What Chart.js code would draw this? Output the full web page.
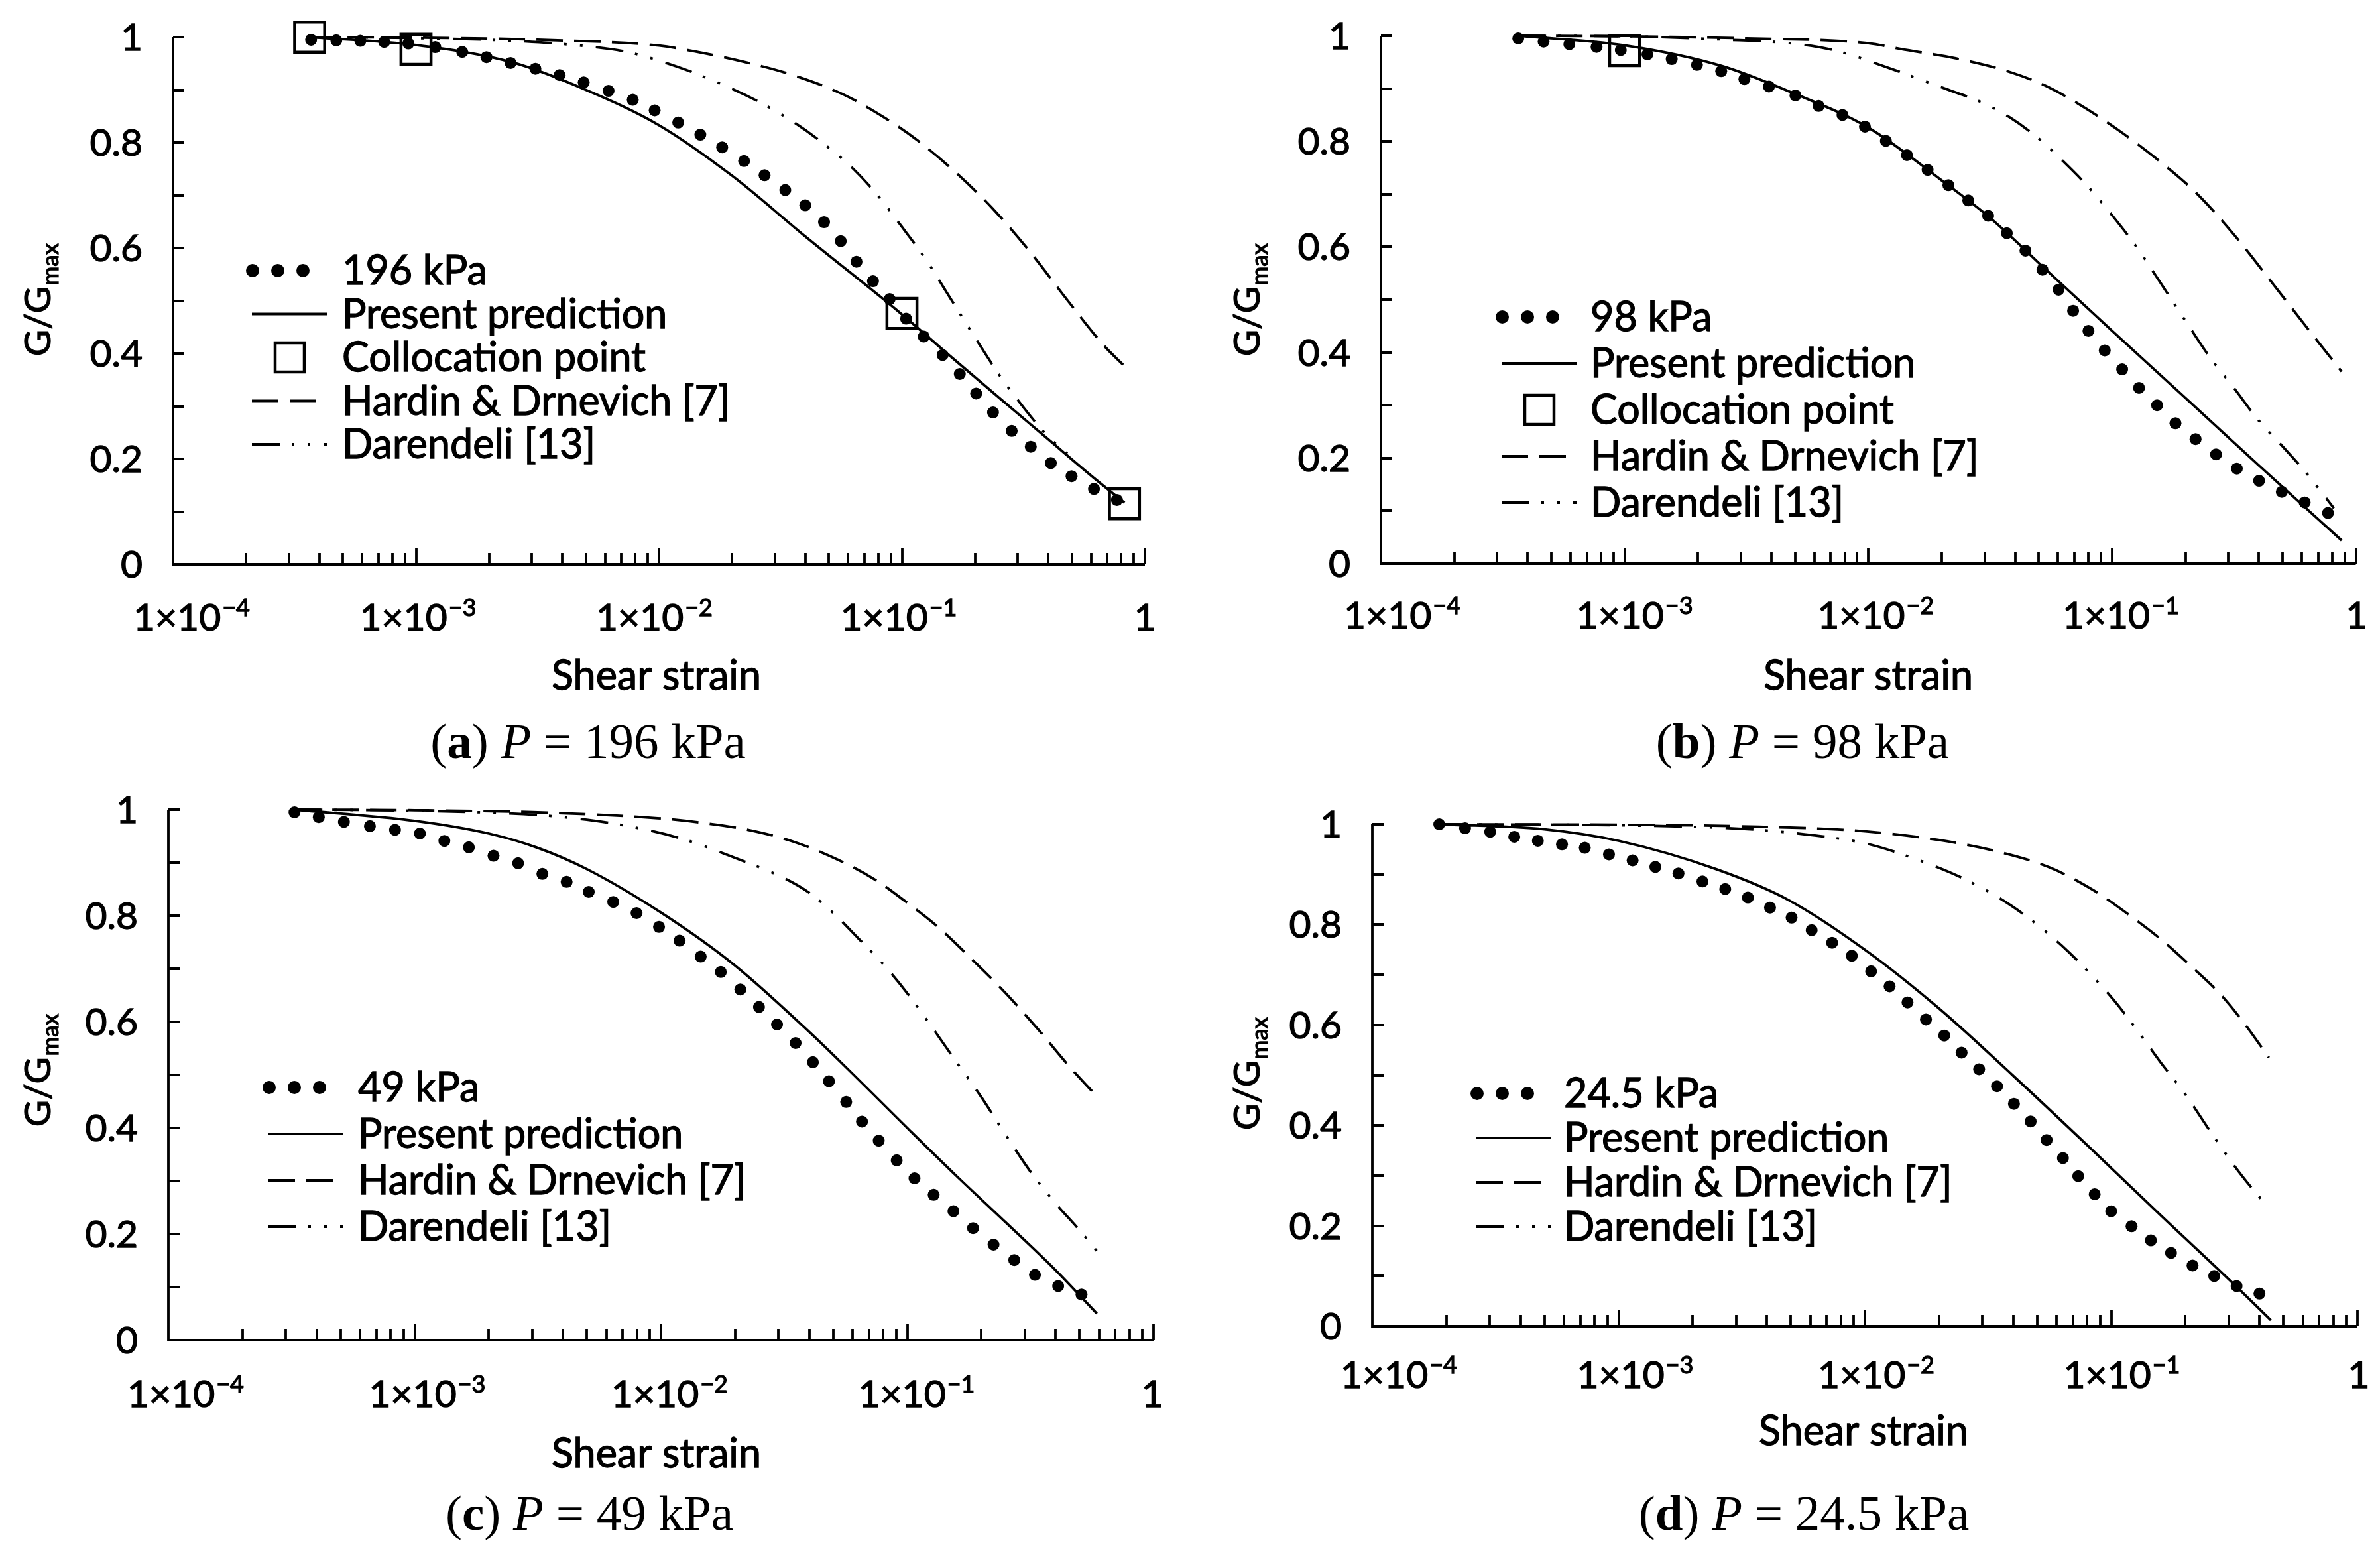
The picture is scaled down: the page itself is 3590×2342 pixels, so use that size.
<!DOCTYPE html>
<html>
<head>
<meta charset="utf-8">
<title>G/Gmax versus shear strain</title>
<script src="https://cdn.jsdelivr.net/npm/chart.js@4.4.1/dist/chart.umd.min.js"></script>
<style>
  html, body { margin: 0; padding: 0; background: #fff; }
  #page { position: relative; width: 3590px; height: 2342px; }
  #page canvas { position: absolute; }
</style>
</head>
<body>
<div id="page">
  <canvas id="chartA" width="1795" height="1171" style="left:0;top:0"></canvas>
  <canvas id="chartB" width="1795" height="1171" style="left:1795px;top:0"></canvas>
  <canvas id="chartC" width="1795" height="1171" style="left:0;top:1171px"></canvas>
  <canvas id="chartD" width="1795" height="1171" style="left:1795px;top:1171px"></canvas>
</div>
<script>
// axis ticks
var xTicks = [1e-4, 1e-3, 1e-2, 1e-1, 1];
var xTickLabels = [['1×10', '−4'], ['1×10', '−3'], ['1×10', '−2'], ['1×10', '−1'], ['1', '']];
var yTicks = [0, 0.2, 0.4, 0.6, 0.8, 1];
var yTickLabels = ['0', '0.2', '0.4', '0.6', '0.8', '1'];

// (a) P = 196 kPa
var strainA = [3.7e-4, 4.7e-4, 5.9e-4, 7.4e-4, 9.3e-4, 1.2e-3, 1.55e-3, 1.95e-3, 2.45e-3, 3.1e-3, 3.9e-3, 4.9e-3, 6.2e-3, 7.8e-3, 9.6e-3, 1.2e-2, 1.48e-2, 1.82e-2, 2.24e-2, 2.72e-2, 3.31e-2, 4.0e-2, 4.78e-2, 5.6e-2, 6.5e-2, 7.6e-2, 8.9e-2, 0.104, 0.123, 0.147, 0.173, 0.202, 0.237, 0.283, 0.339, 0.41, 0.499, 0.617, 0.767];
var measuredA = [0.995, 0.994, 0.993, 0.991, 0.988, 0.981, 0.972, 0.962, 0.951, 0.94, 0.928, 0.914, 0.898, 0.881, 0.861, 0.838, 0.815, 0.791, 0.765, 0.738, 0.71, 0.681, 0.649, 0.613, 0.574, 0.537, 0.503, 0.466, 0.432, 0.397, 0.361, 0.324, 0.288, 0.253, 0.223, 0.192, 0.167, 0.143, 0.122];
var predStrainA = [3.65e-4, 1e-3, 2.5e-3, 5e-3, 1e-2, 2e-2, 4e-2, 0.1, 0.158, 0.251, 0.398, 0.631, 0.824];
var predA = [1.0, 0.985, 0.952, 0.9, 0.833, 0.737, 0.622, 0.474, 0.395, 0.316, 0.238, 0.16, 0.117];
var colStrainA = [3.65e-4, 1e-3, 0.1, 0.824];
var colA = [1.0, 0.977, 0.476, 0.115];
var hdStrainA = [3.65e-4, 1e-3, 3.16e-3, 1e-2, 1.4e-2, 2.29e-2, 3.5e-2, 5.75e-2, 8.77e-2, 0.116, 0.165, 0.235, 0.335, 0.476, 0.678, 0.824];
var hdA = [1.0, 0.999, 0.995, 0.984, 0.973, 0.952, 0.929, 0.891, 0.843, 0.804, 0.745, 0.676, 0.594, 0.503, 0.415, 0.376];
var darStrainA = [3.65e-4, 1e-3, 2.5e-3, 5e-3, 7.4e-3, 1.17e-2, 1.66e-2, 2.51e-2, 3.55e-2, 4.79e-2, 6.31e-2, 7.94e-2, 0.1, 0.126, 0.158, 0.2, 0.251, 0.316, 0.398, 0.479];
var darA = [1.0, 0.998, 0.993, 0.983, 0.972, 0.945, 0.918, 0.88, 0.84, 0.797, 0.75, 0.70, 0.64, 0.577, 0.505, 0.43, 0.36, 0.298, 0.243, 0.21];

// (b) P = 98 kPa
var strainB = [3.66e-4, 4.65e-4, 5.93e-4, 7.67e-4, 9.64e-4, 1.24e-3, 1.56e-3, 1.98e-3, 2.49e-3, 3.1e-3, 3.91e-3, 5.02e-3, 6.25e-3, 7.83e-3, 9.68e-3, 1.18e-2, 1.44e-2, 1.75e-2, 2.13e-2, 2.57e-2, 3.1e-2, 3.7e-2, 4.41e-2, 5.18e-2, 6.03e-2, 6.92e-2, 8.0e-2, 9.33e-2, 0.11, 0.129, 0.153, 0.182, 0.22, 0.267, 0.325, 0.401, 0.497, 0.617, 0.769];
var measuredB = [0.995, 0.989, 0.984, 0.979, 0.973, 0.965, 0.956, 0.945, 0.933, 0.918, 0.904, 0.887, 0.867, 0.85, 0.828, 0.801, 0.774, 0.746, 0.717, 0.688, 0.659, 0.626, 0.593, 0.557, 0.519, 0.479, 0.441, 0.404, 0.368, 0.333, 0.3, 0.266, 0.236, 0.207, 0.18, 0.157, 0.136, 0.116, 0.096];
var predStrainB = [3.66e-4, 1e-3, 2.5e-3, 5e-3, 1e-2, 2e-2, 3.16e-2, 5.3e-2, 0.1, 0.2, 0.398, 0.875];
var predB = [1.0, 0.982, 0.943, 0.89, 0.826, 0.726, 0.655, 0.559, 0.441, 0.314, 0.187, 0.044];
var colStrainB = [1e-3];
var colB = [0.972];
var hdStrainB = [3.66e-4, 1e-3, 3.16e-3, 1e-2, 1.36e-2, 2.3e-2, 3.89e-2, 5.52e-2, 7.83e-2, 0.111, 0.158, 0.224, 0.318, 0.45, 0.638, 0.875];
var hdB = [1.0, 0.999, 0.995, 0.986, 0.975, 0.957, 0.93, 0.902, 0.862, 0.815, 0.761, 0.70, 0.622, 0.534, 0.444, 0.364];
var darStrainB = [3.66e-4, 1e-3, 2.5e-3, 5e-3, 7.5e-3, 1.1e-2, 2.09e-2, 2.88e-2, 3.82e-2, 5.01e-2, 6.31e-2, 7.94e-2, 0.1, 0.126, 0.158, 0.2, 0.251, 0.316, 0.398, 0.501, 0.631, 0.813];
var darB = [1.0, 0.999, 0.993, 0.985, 0.971, 0.946, 0.899, 0.875, 0.845, 0.805, 0.762, 0.715, 0.66, 0.60, 0.532, 0.46, 0.392, 0.333, 0.272, 0.222, 0.17, 0.105];

// (c) P = 49 kPa
var strainC = [3.25e-4, 4.08e-4, 5.16e-4, 6.58e-4, 8.32e-4, 1.05e-3, 1.32e-3, 1.66e-3, 2.09e-3, 2.63e-3, 3.3e-3, 4.14e-3, 5.09e-3, 6.4e-3, 7.96e-3, 9.82e-3, 1.19e-2, 1.45e-2, 1.75e-2, 2.1e-2, 2.5e-2, 2.96e-2, 3.52e-2, 4.14e-2, 4.81e-2, 5.65e-2, 6.55e-2, 7.66e-2, 9.06e-2, 0.107, 0.128, 0.154, 0.185, 0.224, 0.272, 0.33, 0.41, 0.51];
var measuredC = [0.995, 0.986, 0.977, 0.969, 0.962, 0.955, 0.941, 0.929, 0.913, 0.899, 0.879, 0.864, 0.845, 0.826, 0.805, 0.779, 0.753, 0.723, 0.694, 0.661, 0.628, 0.595, 0.56, 0.524, 0.488, 0.449, 0.412, 0.376, 0.339, 0.305, 0.274, 0.243, 0.211, 0.18, 0.151, 0.123, 0.102, 0.086];
var predStrainC = [3.25e-4, 1e-3, 2e-3, 3.16e-3, 5e-3, 1e-2, 2e-2, 3.98e-2, 5.62e-2, 0.1, 0.158, 0.251, 0.398, 0.589];
var predC = [1.0, 0.979, 0.955, 0.928, 0.888, 0.806, 0.706, 0.582, 0.515, 0.4, 0.31, 0.222, 0.133, 0.05];
var hdStrainC = [3.25e-4, 1e-3, 3.16e-3, 9.7e-3, 1.48e-2, 2.25e-2, 3.43e-2, 5.21e-2, 7.4e-2, 9.77e-2, 0.134, 0.183, 0.251, 0.344, 0.455, 0.598];
var hdC = [1.0, 0.999, 0.995, 0.984, 0.975, 0.962, 0.94, 0.906, 0.868, 0.828, 0.778, 0.718, 0.654, 0.583, 0.516, 0.456];
var darStrainC = [3.25e-4, 1e-3, 3.16e-3, 5e-3, 7.94e-3, 1.26e-2, 2e-2, 3.16e-2, 3.98e-2, 5.01e-2, 6.31e-2, 7.94e-2, 0.1, 0.126, 0.158, 0.2, 0.251, 0.316, 0.398, 0.501, 0.598];
var darC = [1.0, 0.998, 0.99, 0.981, 0.966, 0.943, 0.909, 0.871, 0.844, 0.805, 0.758, 0.71, 0.654, 0.59, 0.525, 0.458, 0.387, 0.318, 0.259, 0.207, 0.164];

// (d) P = 24.5 kPa
var strainD = [1.87e-4, 2.38e-4, 3.01e-4, 3.77e-4, 4.7e-4, 5.89e-4, 7.29e-4, 9.14e-4, 1.14e-3, 1.41e-3, 1.75e-3, 2.19e-3, 2.71e-3, 3.35e-3, 4.12e-3, 5.04e-3, 6.08e-3, 7.36e-3, 8.85e-3, 1.06e-2, 1.26e-2, 1.49e-2, 1.77e-2, 2.1e-2, 2.47e-2, 2.91e-2, 3.44e-2, 4.03e-2, 4.71e-2, 5.47e-2, 6.37e-2, 7.35e-2, 8.57e-2, 0.1, 0.121, 0.145, 0.175, 0.214, 0.262, 0.323, 0.4];
var measuredD = [1.0, 0.992, 0.985, 0.975, 0.967, 0.96, 0.953, 0.94, 0.928, 0.915, 0.902, 0.886, 0.871, 0.854, 0.834, 0.814, 0.789, 0.764, 0.738, 0.707, 0.677, 0.645, 0.611, 0.579, 0.545, 0.512, 0.478, 0.443, 0.408, 0.371, 0.335, 0.299, 0.263, 0.229, 0.199, 0.171, 0.146, 0.121, 0.1, 0.08, 0.065];
var predStrainD = [1.87e-4, 5e-4, 1e-3, 2.51e-3, 4.9e-3, 1e-2, 2e-2, 3.98e-2, 7.94e-2, 0.158, 0.316, 0.445];
var predD = [1.0, 0.99, 0.967, 0.91, 0.849, 0.75, 0.633, 0.5, 0.362, 0.222, 0.083, 0.012];
var hdStrainD = [1.87e-4, 1e-3, 3.16e-3, 1e-2, 1.97e-2, 3.31e-2, 5.62e-2, 8.51e-2, 0.12, 0.159, 0.21, 0.278, 0.355, 0.437];
var hdD = [1.0, 0.999, 0.996, 0.986, 0.969, 0.948, 0.914, 0.868, 0.817, 0.771, 0.718, 0.661, 0.597, 0.535];
var darStrainD = [1.87e-4, 1e-3, 3.16e-3, 5e-3, 1e-2, 1.58e-2, 2.51e-2, 3.98e-2, 6.31e-2, 0.1, 0.126, 0.158, 0.2, 0.251, 0.316, 0.38, 0.412];
var darD = [1.0, 0.998, 0.991, 0.983, 0.962, 0.932, 0.892, 0.836, 0.758, 0.656, 0.593, 0.527, 0.462, 0.39, 0.32, 0.27, 0.25];

var SANS = 'Lato, "Open Sans", "DejaVu Sans", sans-serif';
var SERIF = '"Liberation Serif", "DejaVu Serif", serif';
var HD_DASH = [40, 17];
var DAR_DASH = [42, 18, 4, 20, 4, 20];

function pts(xs, ys) {
  return xs.map(function (x, i) { return { x: x, y: ys[i] }; });
}

function buildDatasets(p) {
  var sets = [{
    label: p.pressure, symbol: 'dots',
    data: pts(p.strain, p.measured),
    showLine: false, pointStyle: 'circle', pointRadius: 9,
    pointBackgroundColor: '#000', pointBorderColor: '#000', pointBorderWidth: 0,
    clip: false
  }, {
    label: 'Present prediction', symbol: 'line',
    data: pts(p.predStrain, p.pred),
    borderColor: '#000', borderWidth: 3.8, pointRadius: 0,
    cubicInterpolationMode: 'monotone', clip: false
  }];
  if (p.colStrain) {
    sets.push({
      label: 'Collocation point', symbol: 'square',
      data: pts(p.colStrain, p.col),
      showLine: false, pointStyle: 'rect', pointRadius: 32,
      pointBackgroundColor: 'rgba(0,0,0,0)', pointBorderColor: '#000', pointBorderWidth: 4.5,
      clip: false
    });
  }
  sets.push({
    label: 'Hardin & Drnevich [7]', symbol: 'line',
    data: pts(p.hdStrain, p.hd),
    borderColor: '#000', borderWidth: 3.8, borderDash: HD_DASH, pointRadius: 0,
    cubicInterpolationMode: 'monotone', clip: false
  });
  sets.push({
    label: 'Darendeli [13]', symbol: 'line',
    data: pts(p.darStrain, p.dar),
    borderColor: '#000', borderWidth: 3.8, borderDash: DAR_DASH, pointRadius: 0,
    cubicInterpolationMode: 'monotone', clip: false
  });
  return sets;
}

// filled text with a thin outline so it reads as heavy as the original
function heavyText(ctx, s, x, y) {
  ctx.fillText(s, x, y);
  ctx.strokeText(s, x, y);
}

// axes, labels, legend and caption drawn on the chart canvas
function makeFrame(cfg) {
  return {
    id: 'frame',
    beforeDatasetsDraw: function (chart) {
      var ctx = chart.ctx, a = chart.chartArea, xs = chart.scales.x, ys = chart.scales.y;
      ctx.save();
      ctx.strokeStyle = '#000';
      ctx.lineWidth = 3.8;
      ctx.beginPath();
      ctx.moveTo(a.left, a.top);
      ctx.lineTo(a.left, a.bottom);
      ctx.lineTo(a.right, a.bottom);
      for (var k = 1; k <= 10; k++) {
        var py = Math.round(ys.getPixelForValue(k / 10));
        ctx.moveTo(a.left, py);
        ctx.lineTo(a.left + 17, py);
      }
      for (var e = -4; e <= 0; e++) {
        for (var m = 1; m <= 9; m++) {
          var v = m * Math.pow(10, e);
          if (v > 1.000001) break;
          var px = Math.round(xs.getPixelForValue(v));
          ctx.moveTo(px, a.bottom);
          ctx.lineTo(px, a.bottom - (m === 1 ? 24 : 17));
        }
      }
      ctx.stroke();
      ctx.restore();
    },
    afterDraw: function (chart) {
      var ctx = chart.ctx, a = chart.chartArea, xs = chart.scales.x, ys = chart.scales.y;
      ctx.save();
      ctx.fillStyle = '#000';
      ctx.strokeStyle = '#000';
      ctx.lineWidth = 1.3;
      ctx.textBaseline = 'alphabetic';

      // y tick labels
      ctx.font = '57px ' + SANS;
      ctx.textAlign = 'right';
      yTicks.forEach(function (v, i) {
        heavyText(ctx, yTickLabels[i], a.left - 46, ys.getPixelForValue(v) + 20);
      });

      // x tick labels with superscript exponent
      ctx.textAlign = 'left';
      xTicks.forEach(function (v, i) {
        var base = xTickLabels[i][0], sup = xTickLabels[i][1];
        ctx.font = '57px ' + SANS;
        var wb = ctx.measureText(base).width;
        ctx.font = '36px ' + SANS;
        var ws = sup ? ctx.measureText(sup).width + 2 : 0;
        var left = xs.getPixelForValue(v) - (wb + ws) / 2 + cfg.xLabelShift[i];
        ctx.font = '57px ' + SANS;
        heavyText(ctx, base, left, cfg.xLabelBase);
        if (sup) {
          ctx.font = '36px ' + SANS;
          heavyText(ctx, sup, left + wb + 2, cfg.xLabelBase - 22);
        }
      });

      // x title
      ctx.font = '61px ' + SANS;
      ctx.textAlign = 'center';
      heavyText(ctx, 'Shear strain', cfg.xTitleX, cfg.xTitleBase);

      // y title G/Gmax, rotated
      ctx.save();
      ctx.translate(cfg.yTitleX, cfg.yTitleY);
      ctx.rotate(-Math.PI / 2);
      ctx.textAlign = 'left';
      ctx.font = '55px ' + SANS;
      var w1 = ctx.measureText('G/G').width;
      ctx.font = '35px ' + SANS;
      var w2 = ctx.measureText('max').width;
      var sx = -(w1 + w2 + 2) / 2;
      ctx.font = '55px ' + SANS;
      heavyText(ctx, 'G/G', sx, 19);
      ctx.font = '35px ' + SANS;
      heavyText(ctx, 'max', sx + w1 + 2, 31);
      ctx.restore();

      // legend inside the plot
      var L = cfg.legend;
      ctx.textAlign = 'left';
      chart.data.datasets.forEach(function (ds, i) {
        var y = L.top + i * L.step, x = L.x;
        ctx.save();
        if (ds.symbol === 'dots') {
          for (var k = 0; k < 3; k++) {
            ctx.beginPath();
            ctx.arc(x + 1 + k * 38, y, 10, 0, 2 * Math.PI);
            ctx.fill();
          }
        } else if (ds.symbol === 'square') {
          ctx.lineWidth = 4.5;
          ctx.strokeRect(x + 57 - 22, y - 22, 44, 44);
        } else {
          ctx.lineWidth = 4.2;
          ctx.setLineDash(ds.borderDash || []);
          ctx.beginPath();
          ctx.moveTo(x, y);
          ctx.lineTo(x + 113, y);
          ctx.stroke();
        }
        ctx.restore();
        ctx.font = '61px ' + SANS;
        heavyText(ctx, ds.label, L.textX, y + 21);
      });

      // caption: (a) P = 196 kPa
      var parts = [['(', ''], [cfg.letter, 'bold '], [') ', ''], ['P', 'italic '], [' = ' + cfg.pressure, '']];
      var total = 0;
      parts.forEach(function (pt) {
        ctx.font = pt[1] + '75px ' + SERIF;
        pt.push(ctx.measureText(pt[0]).width);
        total += pt[2];
      });
      var cx = cfg.captionX - total / 2;
      parts.forEach(function (pt) {
        ctx.font = pt[1] + '75px ' + SERIF;
        ctx.fillText(pt[0], cx, cfg.captionBase);
        cx += pt[2];
      });
      ctx.restore();
    }
  };
}

var panels = [
  { canvas: 'chartA', letter: 'a', pressure: '196 kPa',
    strain: strainA, measured: measuredA, predStrain: predStrainA, pred: predA,
    colStrain: colStrainA, col: colA, hdStrain: hdStrainA, hd: hdA, darStrain: darStrainA, dar: darA,
    area: { left: 261, right: 1727, top: 56, bottom: 851 },
    legend: { x: 380, textX: 516, top: 408, step: 65.5 },
    xLabelBase: 951, xLabelShift: [28, 3, -7, -5, 0],
    xTitleX: 990, xTitleBase: 1040, yTitleX: 57, yTitleY: 452,
    captionX: 887, captionBase: 1143 },
  { canvas: 'chartB', letter: 'b', pressure: '98 kPa',
    strain: strainB, measured: measuredB, predStrain: predStrainB, pred: predB,
    colStrain: colStrainB, col: colB, hdStrain: hdStrainB, hd: hdB, darStrain: darStrainB, dar: darB,
    area: { left: 288, right: 1761, top: 54, bottom: 850 },
    legend: { x: 470, textX: 604, top: 478, step: 70 },
    xLabelBase: 948, xLabelShift: [32, 15, 11, 13, 1],
    xTitleX: 1023, xTitleBase: 1040, yTitleX: 86, yTitleY: 452,
    captionX: 924, captionBase: 1143 },
  { canvas: 'chartC', letter: 'c', pressure: '49 kPa',
    strain: strainC, measured: measuredC, predStrain: predStrainC, pred: predC,
    hdStrain: hdStrainC, hd: hdC, darStrain: darStrainC, dar: darC,
    area: { left: 254, right: 1740, top: 50, bottom: 850 },
    legend: { x: 405, textX: 540, top: 469, step: 70 },
    xLabelBase: 951, xLabelShift: [26, 19, 13, 14, -2],
    xTitleX: 990, xTitleBase: 1042, yTitleX: 57, yTitleY: 443,
    captionX: 889, captionBase: 1136 },
  { canvas: 'chartD', letter: 'd', pressure: '24.5 kPa',
    strain: strainD, measured: measuredD, predStrain: predStrainD, pred: predD,
    hdStrain: hdStrainD, hd: hdD, darStrain: darStrainD, dar: darD,
    area: { left: 275, right: 1761, top: 72, bottom: 829 },
    legend: { x: 432, textX: 564, top: 478, step: 67 },
    xLabelBase: 922, xLabelShift: [40, 25, 17, 16, 2],
    xTitleX: 1016, xTitleBase: 1008, yTitleX: 86, yTitleY: 448,
    captionX: 926, captionBase: 1136 }
];

panels.forEach(function (p) {
  var el = document.getElementById(p.canvas);
  new Chart(el, {
    type: 'line',
    data: { datasets: buildDatasets(p) },
    options: {
      responsive: false,
      animation: false,
      devicePixelRatio: 1,
      layout: {
        padding: {
          left: p.area.left, top: p.area.top,
          right: el.width - p.area.right, bottom: el.height - p.area.bottom
        }
      },
      scales: {
        x: { type: 'logarithmic', min: 1e-4, max: 1, display: false },
        y: { type: 'linear', min: 0, max: 1, display: false }
      },
      plugins: { legend: { display: false }, tooltip: { enabled: false } }
    },
    plugins: [makeFrame(p)]
  });
});
</script>
</body>
</html>
